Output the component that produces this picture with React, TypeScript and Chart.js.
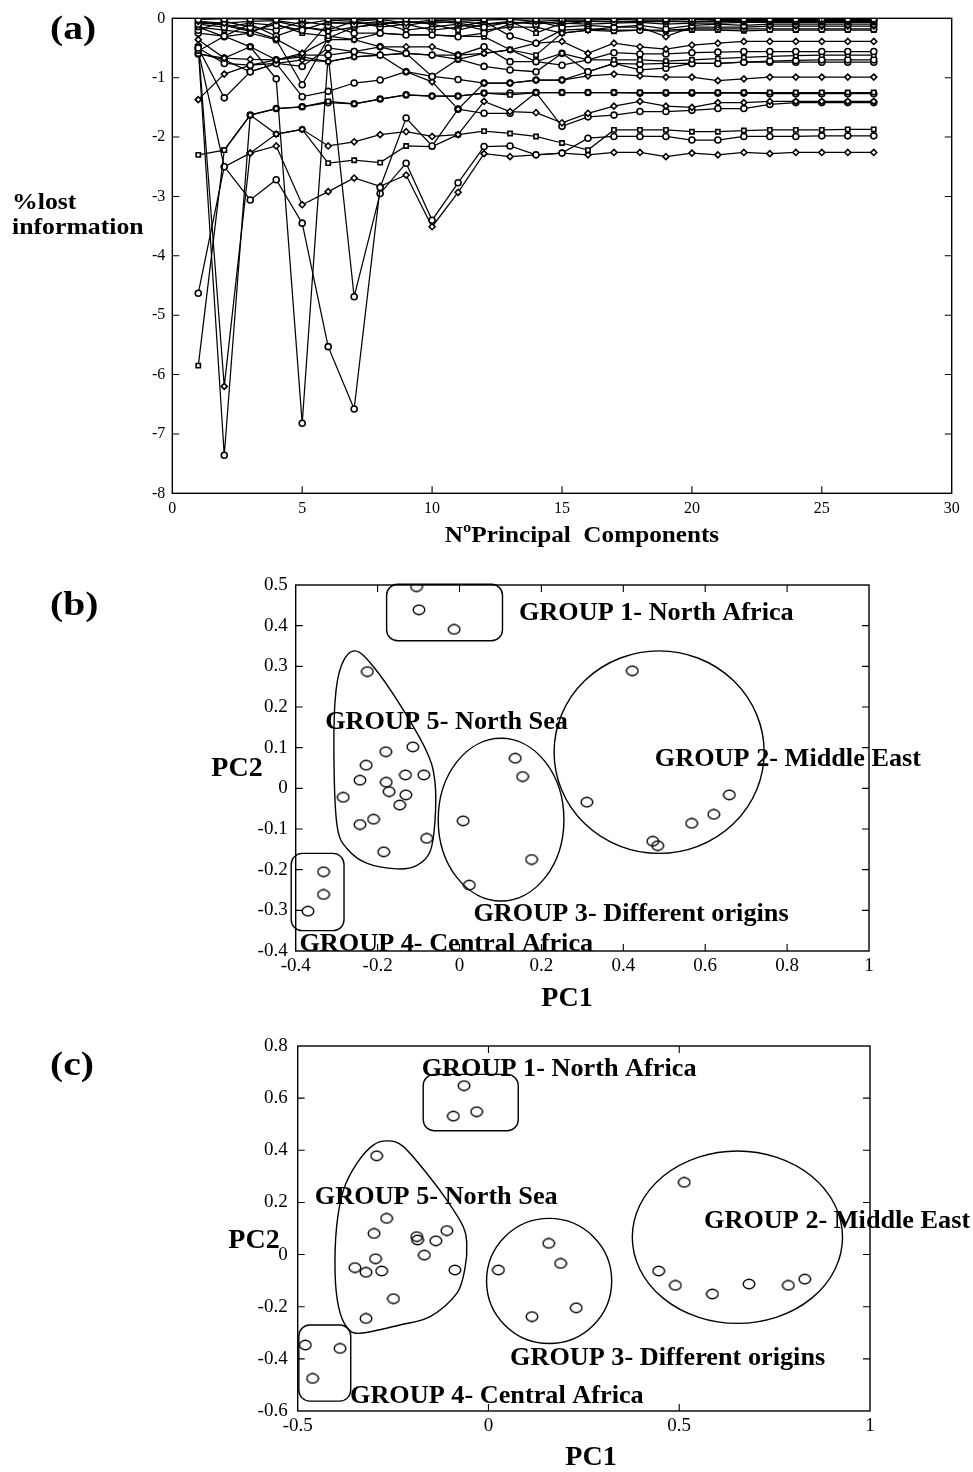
import React, { useEffect, useRef } from "react";
import { Chart, registerables } from "chart.js";
Chart.register(...registerables);

const SERIF = "'Liberation Serif', 'Times New Roman', Times, serif";

// ---------- Panel (a): % lost information vs number of principal components ----------
const PC_COUNT = [1, 2, 3, 4, 5, 6, 7, 8, 9, 10, 11, 12, 13, 14, 15, 16, 17, 18, 19, 20, 21, 22, 23, 24, 25, 26, 27];
const A_X_TICKS = [0, 5, 10, 15, 20, 25, 30];
const A_Y_TICKS = [0, -1, -2, -3, -4, -5, -6, -7, -8];

const LOSS_01 = [-0.02, -0.01, -0.01, -0.02, -0.01, -0.01, -0.02, -0.01, -0.01, -0.01, -0.02, -0.01, -0.01, -0.01, -0.01, -0.01, -0.01, -0.01, -0.01, -0.01, -0.01, -0.01, -0.01, -0.01, -0.01, -0.01, -0.01];
const LOSS_02 = [-0.05, -0.08, -0.05, -0.04, -0.1, -0.03, -0.05, -0.02, -0.08, -0.03, -0.05, -0.03, -0.02, -0.05, -0.03, -0.03, -0.02, -0.03, -0.03, -0.02, -0.02, -0.02, -0.02, -0.02, -0.02, -0.02, -0.02];
const LOSS_03 = [-0.1, -0.15, -0.08, -0.12, -0.2, -0.06, -0.1, -0.05, -0.12, -0.05, -0.08, -0.15, -0.06, -0.1, -0.05, -0.05, -0.06, -0.05, -0.05, -0.05, -0.04, -0.04, -0.04, -0.04, -0.04, -0.04, -0.04];
const LOSS_04 = [-0.15, -0.2, -0.25, -0.05, -0.15, -0.22, -0.15, -0.1, -0.05, -0.1, -0.2, -0.1, -0.05, -0.25, -0.08, -0.1, -0.08, -0.07, -0.1, -0.08, -0.08, -0.07, -0.07, -0.07, -0.07, -0.07, -0.07];
const LOSS_05 = [-0.2, -0.05, -0.15, -0.2, -0.05, -0.12, -0.25, -0.25, -0.28, -0.28, -0.31, -0.25, -0.1, -0.05, -0.15, -0.12, -0.15, -0.12, -0.18, -0.12, -0.1, -0.12, -0.1, -0.1, -0.1, -0.1, -0.1];
const LOSS_06 = [-0.08, -0.1, -0.2, -0.35, -0.59, -0.08, -0.08, -0.08, -0.2, -0.15, -0.1, -0.2, -0.15, -0.15, -0.25, -0.2, -0.15, -0.15, -0.31, -0.15, -0.15, -0.15, -0.13, -0.13, -0.13, -0.13, -0.13];
const LOSS_07 = [-0.25, -0.3, -0.1, -0.3, -0.15, -0.2, -0.05, -0.15, -0.1, -0.2, -0.15, -0.05, -0.3, -0.42, -0.2, -0.18, -0.2, -0.2, -0.2, -0.18, -0.18, -0.18, -0.18, -0.18, -0.18, -0.18, -0.18];
const LOSS_08 = [-0.05, -0.12, -0.22, -0.1, -0.25, -0.3, -0.36, -0.25, -0.28, -0.28, -0.3, -0.31, -0.53, -0.62, -0.25, -0.2, -0.22, -0.2, -0.22, -0.2, -0.2, -0.21, -0.2, -0.2, -0.2, -0.2, -0.2];
const LOSS_09 = [-0.15, -0.31, -0.25, -0.36, -1.12, -0.33, -0.15, -0.1, -0.05, -0.08, -0.05, -0.1, -0.08, -0.05, -0.1, -0.05, -0.05, -0.06, -0.05, -0.06, -0.05, -0.05, -0.05, -0.05, -0.05, -0.05, -0.05];
const LOSS_10 = [-0.36, -0.67, -0.69, -0.7, -0.59, -0.36, -0.36, -0.48, -0.48, -0.48, -0.62, -0.59, -0.53, -0.42, -0.39, -0.59, -0.42, -0.48, -0.52, -0.45, -0.42, -0.39, -0.39, -0.39, -0.39, -0.39, -0.39];
const LOSS_11 = [-0.5, -0.76, -0.79, -0.7, -0.62, -0.62, -0.56, -0.62, -0.59, -0.62, -0.62, -0.48, -0.73, -0.73, -0.79, -0.7, -0.58, -0.6, -0.6, -0.58, -0.57, -0.56, -0.56, -0.56, -0.56, -0.56, -0.56];
const LOSS_12 = [-0.55, -0.3, -0.48, -0.7, -0.65, -0.73, -0.65, -0.62, -0.59, -0.62, -0.69, -0.59, -0.53, -0.73, -0.59, -0.7, -0.7, -0.7, -0.72, -0.7, -0.68, -0.66, -0.64, -0.63, -0.62, -0.62, -0.62];
const LOSS_13 = [-0.59, -0.7, -0.9, -0.76, -0.81, -0.5, -0.56, -0.48, -0.59, -0.98, -0.69, -0.81, -0.87, -0.9, -0.59, -0.9, -0.76, -0.77, -0.76, -0.76, -0.76, -0.74, -0.72, -0.71, -0.7, -0.7, -0.7];
const LOSS_14 = [-1.37, -0.94, -0.79, -0.76, -0.7, -0.73, -0.65, -0.62, -0.9, -1.07, -1.53, -1.09, -1.09, -1.04, -1.04, -0.97, -0.94, -0.97, -0.99, -0.99, -1.05, -1.02, -0.99, -0.99, -0.99, -0.99, -0.99];
const LOSS_15 = [-0.5, -1.34, -0.9, -0.76, -1.32, -1.23, -1.09, -1.04, -0.9, -0.98, -1.03, -1.09, -1.09, -1.04, -1.04, -0.9, -0.76, -0.87, -0.84, -0.76, -0.76, -0.74, -0.74, -0.74, -0.74, -0.74, -0.74];
const LOSS_16 = [-5.85, -2.22, -1.63, -1.52, -1.49, -1.4, -1.44, -1.36, -1.29, -1.31, -1.31, -1.26, -1.29, -1.25, -1.25, -1.25, -1.25, -1.25, -1.25, -1.25, -1.25, -1.25, -1.25, -1.25, -1.25, -1.25, -1.25];
const LOSS_17 = [-0.5, -7.36, -1.63, -1.52, -1.49, -1.42, -1.44, -1.36, -1.29, -1.31, -1.31, -1.26, -1.26, -1.25, -1.25, -1.25, -1.25, -1.26, -1.26, -1.26, -1.26, -1.26, -1.27, -1.27, -1.27, -1.27, -1.27];
const LOSS_18 = [-0.45, -6.2, -2.27, -1.95, -1.87, -2.15, -2.08, -1.96, -1.91, -1.99, -1.96, -1.4, -1.57, -1.59, -1.76, -1.6, -1.48, -1.4, -1.48, -1.5, -1.42, -1.42, -1.4, -1.4, -1.4, -1.4, -1.4];
const LOSS_19 = [-4.63, -2.5, -3.06, -2.72, -3.45, -5.53, -6.58, -2.85, -1.68, -2.15, -1.53, -1.6, -1.6, -1.25, -1.82, -1.66, -1.63, -1.57, -1.57, -1.55, -1.52, -1.52, -1.45, -1.42, -1.42, -1.42, -1.42];
const LOSS_20 = [-2.3, -2.22, -1.63, -1.95, -1.87, -2.44, -2.39, -2.43, -2.15, -2.16, -1.96, -1.9, -1.94, -1.99, -2.1, -2.22, -1.88, -1.88, -1.88, -1.91, -1.91, -1.89, -1.88, -1.88, -1.88, -1.87, -1.87];
const LOSS_21 = [-0.6, -0.67, -0.48, -1.02, -6.82, -0.62, -4.69, -2.95, -2.44, -3.4, -2.77, -2.16, -2.15, -2.3, -2.27, -2.02, -1.99, -1.99, -1.99, -2.05, -2.05, -1.99, -1.99, -1.99, -1.98, -1.98, -1.98];
const LOSS_22 = [-0.55, -2.5, -2.27, -2.15, -3.14, -2.92, -2.69, -2.83, -2.64, -3.51, -2.93, -2.28, -2.33, -2.3, -2.27, -2.3, -2.26, -2.26, -2.33, -2.27, -2.3, -2.26, -2.28, -2.26, -2.26, -2.26, -2.26];

const LOSS_SERIES = [LOSS_01, LOSS_02, LOSS_03, LOSS_04, LOSS_05, LOSS_06, LOSS_07, LOSS_08, LOSS_09, LOSS_10, LOSS_11,
  LOSS_12, LOSS_13, LOSS_14, LOSS_15, LOSS_16, LOSS_17, LOSS_18, LOSS_19, LOSS_20, LOSS_21, LOSS_22];

// ---------- Panel (b): PC1 vs PC2 ----------
const B_X_TICKS = [-0.4, -0.2, 0, 0.2, 0.4, 0.6, 0.8, 1];
const B_Y_TICKS = [-0.4, -0.3, -0.2, -0.1, 0, 0.1, 0.2, 0.3, 0.4, 0.5];
const B_GROUP1 = [[-0.105, 0.496], [-0.099, 0.439], [-0.013, 0.391]];
const B_GROUP2 = [[0.422, 0.289], [0.311, -0.034], [0.472, -0.13], [0.484, -0.141], [0.567, -0.086], [0.621, -0.064], [0.659, -0.016]];
const B_GROUP3 = [[0.009, -0.08], [0.136, 0.074], [0.154, 0.029], [0.176, -0.175], [0.024, -0.238]];
const B_GROUP4 = [[-0.332, -0.205], [-0.332, -0.261], [-0.37, -0.302]];
const B_GROUP5 = [[-0.225, 0.287], [-0.18, 0.09], [-0.114, 0.102], [-0.228, 0.057], [-0.243, 0.02], [-0.179, 0.015],
  [-0.172, -0.008], [-0.132, 0.033], [-0.087, 0.033], [-0.131, -0.016], [-0.146, -0.041], [-0.284, -0.022],
  [-0.21, -0.076], [-0.243, -0.089], [-0.08, -0.123], [-0.185, -0.156]];
const B_OUTLINE5 = [[-0.255, 0.338], [-0.21, 0.299], [-0.145, 0.205], [-0.08, 0.09], [-0.06, 0.016], [-0.06, -0.082],
  [-0.072, -0.156], [-0.105, -0.19], [-0.153, -0.198], [-0.227, -0.184], [-0.275, -0.148], [-0.298, -0.098],
  [-0.306, 0.033], [-0.304, 0.213], [-0.288, 0.303]];
const B_SHAPES = [
  { kind: "rect", x1: -0.178, x2: 0.105, y1: 0.363, y2: 0.502 },
  { kind: "rect", x1: -0.411, x2: -0.282, y1: -0.35, y2: -0.16 },
  { kind: "ellipse", cx: 0.1015, cy: -0.077, rx: 0.1535, ry: 0.2 },
  { kind: "ellipse", cx: 0.4875, cy: 0.089, rx: 0.2565, ry: 0.249 },
  { kind: "curve", pts: B_OUTLINE5 },
];
const B_LABELS = [
  { text: "GROUP 1- North Africa", x: 0.145, y: 0.43 },
  { text: "GROUP 5- North Sea", x: -0.328, y: 0.161 },
  { text: "GROUP 2- Middle East", x: 0.477, y: 0.07 },
  { text: "GROUP 3- Different origins", x: 0.034, y: -0.31 },
  { text: "GROUP 4- Central Africa", x: -0.391, y: -0.383 },
];

// ---------- Panel (c): PC1 vs PC2 ----------
const C_X_TICKS = [-0.5, 0, 0.5, 1];
const C_Y_TICKS = [-0.6, -0.4, -0.2, 0, 0.2, 0.4, 0.6, 0.8];
const C_GROUP1 = [[-0.064, 0.648], [-0.092, 0.531], [-0.031, 0.548]];
const C_GROUP2 = [[0.513, 0.277], [0.446, -0.063], [0.49, -0.118], [0.587, -0.151], [0.683, -0.113], [0.786, -0.118], [0.829, -0.094]];
const C_GROUP3 = [[0.026, -0.059], [0.158, 0.043], [0.189, -0.034], [0.23, -0.204], [0.114, -0.238]];
const C_GROUP4 = [[-0.48, -0.347], [-0.389, -0.36], [-0.461, -0.475]];
const C_GROUP5 = [[-0.293, 0.379], [-0.267, 0.139], [-0.3, 0.081], [-0.188, 0.069], [-0.186, 0.056], [-0.138, 0.053],
  [-0.109, 0.092], [-0.168, -0.002], [-0.296, -0.016], [-0.35, -0.05], [-0.321, -0.068], [-0.28, -0.063],
  [-0.088, -0.059], [-0.249, -0.169], [-0.321, -0.245]];
const C_OUTLINE5 = [[-0.264, 0.436], [-0.223, 0.414], [-0.162, 0.312], [-0.109, 0.209], [-0.066, 0.107], [-0.057, 0.043],
  [-0.061, -0.047], [-0.083, -0.149], [-0.153, -0.238], [-0.232, -0.27], [-0.337, -0.302], [-0.372, -0.277],
  [-0.393, -0.2], [-0.402, -0.072], [-0.398, 0.107], [-0.38, 0.248], [-0.345, 0.35], [-0.302, 0.42]];
const C_SHAPES = [
  { kind: "rect", x1: -0.171, x2: 0.078, y1: 0.475, y2: 0.691 },
  { kind: "rect", x1: -0.497, x2: -0.361, y1: -0.562, y2: -0.27 },
  { kind: "ellipse", cx: 0.159, cy: -0.101, rx: 0.164, ry: 0.24 },
  { kind: "ellipse", cx: 0.6525, cy: 0.0665, rx: 0.2755, ry: 0.3305 },
  { kind: "curve", pts: C_OUTLINE5 },
];
const C_LABELS = [
  { text: "GROUP 1- North Africa", x: -0.175, y: 0.708 },
  { text: "GROUP 5- North Sea", x: -0.455, y: 0.218 },
  { text: "GROUP 2- Middle East", x: 0.565, y: 0.126 },
  { text: "GROUP 3- Different origins", x: 0.0565, y: -0.398 },
  { text: "GROUP 4- Central Africa", x: -0.363, y: -0.545 },
];

// ---------- drawing helpers ----------
function drawText(ctx: any, t: any) {
  ctx.save();
  ctx.fillStyle = "#000";
  ctx.font = `${t.bold ? "bold " : ""}${t.size}px ${SERIF}`;
  ctx.textBaseline = "middle";
  ctx.textAlign = "left";
  const sx = t.sx || 1;
  const w = ctx.measureText(t.text).width * sx;
  let x = t.x;
  if (t.align === "center") x -= w / 2;
  ctx.translate(x, t.y);
  ctx.scale(sx, 1);
  ctx.fillText(t.text, 0, 0);
  ctx.restore();
}

function closedCurve(ctx: any, P: number[][]) {
  const n = P.length;
  ctx.beginPath();
  ctx.moveTo(P[0][0], P[0][1]);
  for (let i = 0; i < n; i++) {
    const p0 = P[(i - 1 + n) % n], p1 = P[i], p2 = P[(i + 1) % n], p3 = P[(i + 2) % n];
    const c1x = p1[0] + (p2[0] - p0[0]) / 6, c1y = p1[1] + (p2[1] - p0[1]) / 6;
    const c2x = p2[0] - (p3[0] - p1[0]) / 6, c2y = p2[1] - (p3[1] - p1[1]) / 6;
    ctx.bezierCurveTo(c1x, c1y, c2x, c2y, p2[0], p2[1]);
  }
  ctx.closePath();
  ctx.stroke();
}

function makeDecor(cfg: any) {
  return {
    id: "decor",
    beforeDatasetsDraw(chart: any) {
      const ctx = chart.ctx, xs = chart.scales.x, ys = chart.scales.y;
      ctx.save();
      ctx.strokeStyle = "#000";
      ctx.lineWidth = 1.4;
      for (const s of cfg.shapes || []) {
        if (s.kind === "rect") {
          const x1 = xs.getPixelForValue(s.x1), x2 = xs.getPixelForValue(s.x2);
          const y1 = ys.getPixelForValue(s.y2), y2 = ys.getPixelForValue(s.y1);
          ctx.beginPath();
          ctx.roundRect(x1, y1, x2 - x1, y2 - y1, 11);
          ctx.stroke();
        } else if (s.kind === "ellipse") {
          const cx = xs.getPixelForValue(s.cx), cy = ys.getPixelForValue(s.cy);
          const rx = Math.abs(xs.getPixelForValue(s.cx + s.rx) - cx);
          const ry = Math.abs(ys.getPixelForValue(s.cy + s.ry) - cy);
          ctx.beginPath();
          ctx.ellipse(cx, cy, rx, ry, 0, 0, Math.PI * 2);
          ctx.stroke();
        } else if (s.kind === "curve") {
          closedCurve(ctx, s.pts.map((p: number[]) => [xs.getPixelForValue(p[0]), ys.getPixelForValue(p[1])]));
        }
      }
      ctx.restore();
    },
    afterDraw(chart: any) {
      const ctx = chart.ctx, ca = chart.chartArea, xs = chart.scales.x, ys = chart.scales.y;
      ctx.save();
      ctx.strokeStyle = "#000";
      ctx.lineWidth = 1.4;
      ctx.strokeRect(ca.left, ca.top, ca.right - ca.left, ca.bottom - ca.top);
      const L = 7;
      ctx.lineWidth = 1.1;
      ctx.beginPath();
      for (const t of xs.ticks) {
        const px = xs.getPixelForValue(t.value);
        if (px <= ca.left + 1 || px >= ca.right - 1) continue;
        ctx.moveTo(px, ca.bottom); ctx.lineTo(px, ca.bottom - L);
        ctx.moveTo(px, ca.top); ctx.lineTo(px, ca.top + L);
      }
      for (const t of ys.ticks) {
        const py = ys.getPixelForValue(t.value);
        if (py <= ca.top + 1 || py >= ca.bottom - 1) continue;
        ctx.moveTo(ca.left, py); ctx.lineTo(ca.left + L, py);
        ctx.moveTo(ca.right, py); ctx.lineTo(ca.right - L, py);
      }
      ctx.stroke();
      ctx.restore();
      for (const g of cfg.groupLabels || []) {
        drawText(ctx, { text: g.text, x: xs.getPixelForValue(g.x), y: ys.getPixelForValue(g.y), size: 25, bold: true, sx: 1.05 });
      }
      for (const t of cfg.texts || []) drawText(ctx, t);
    },
  };
}

function axes(xMin: number, xMax: number, xTicks: number[], yMin: number, yMax: number, yTicks: number[],
  yWidth: number, xHeight: number, fontSize: number, xPad: number, yPad: number) {
  const tickFont = { family: SERIF, size: fontSize };
  return {
    x: {
      type: "linear", min: xMin, max: xMax,
      afterBuildTicks: (s: any) => { s.ticks = xTicks.map((v) => ({ value: v })); },
      afterFit: (s: any) => { s.height = xHeight; },
      grid: { display: false, drawTicks: false },
      border: { display: false },
      ticks: { autoSkip: false, maxRotation: 0, padding: xPad, color: "#000", font: tickFont, callback: (v: any) => String(v) },
    },
    y: {
      type: "linear", min: yMin, max: yMax,
      afterBuildTicks: (s: any) => { s.ticks = yTicks.map((v) => ({ value: v })); },
      afterFit: (s: any) => { s.width = yWidth; },
      grid: { display: false, drawTicks: false },
      border: { display: false },
      ticks: { autoSkip: false, padding: yPad, color: "#000", font: tickFont, callback: (v: any) => String(v) },
    },
  };
}

function ellipseMarker() {
  const c = document.createElement("canvas");
  c.width = 14; c.height = 12;
  const g = c.getContext("2d") as any;
  g.strokeStyle = "#000";
  g.lineWidth = 1.4;
  g.beginPath();
  g.ellipse(7, 6, 5.8, 4.7, 0, 0, Math.PI * 2);
  g.stroke();
  return c;
}

function configA() {
  const markers = ["circle", "rectRot", "circle", "rect"];
  return {
    type: "line",
    data: {
      datasets: LOSS_SERIES.map((s, i) => ({
        data: PC_COUNT.map((x, j) => ({ x, y: s[j] })),
        borderColor: "#000", borderWidth: 1.25, tension: 0, fill: false,
        pointRadius: 3, pointStyle: markers[i % markers.length],
        pointBorderColor: "#000", pointBackgroundColor: "#fff", pointBorderWidth: 1.6,
      })),
    },
    options: {
      responsive: false, animation: false, events: [],
      layout: { padding: { left: 0, top: 18.3, right: 21.3, bottom: 0 } },
      plugins: { legend: { display: false }, tooltip: { enabled: false } },
      scales: axes(0, 30, A_X_TICKS, -8, 0, A_Y_TICKS, 172.3, 66.7, 16, 6, 7),
    },
    plugins: [makeDecor({
      texts: [
        { text: "(a)", x: 50, y: 30, size: 33, bold: true, sx: 1.2 },
        { text: "%lost", x: 12, y: 203, size: 23, bold: true, sx: 1.12 },
        { text: "information", x: 12, y: 228, size: 23, bold: true, sx: 1.12 },
        { text: "N\u00baPrincipal  Components", x: 582, y: 536, size: 24, bold: true, sx: 1.05, align: "center" },
      ],
    })],
  };
}

function scatterSets(groups: number[][][], marker: any) {
  return groups.map((g) => ({
    data: g.map((p) => ({ x: p[0], y: p[1] })),
    pointStyle: marker, pointRadius: 6, showLine: false,
    borderColor: "#000", backgroundColor: "rgba(0,0,0,0)",
  }));
}

function configB() {
  const m = ellipseMarker();
  return {
    type: "scatter",
    data: { datasets: scatterSets([B_GROUP1, B_GROUP2, B_GROUP3, B_GROUP4, B_GROUP5], m) },
    options: {
      responsive: false, animation: false, events: [],
      layout: { padding: { left: 0, top: 25, right: 104, bottom: 0 } },
      plugins: { legend: { display: false }, tooltip: { enabled: false } },
      scales: axes(-0.4, 1, B_X_TICKS, -0.4, 0.5, B_Y_TICKS, 295.7, 69, 19, 4, 8),
    },
    plugins: [makeDecor({
      shapes: B_SHAPES,
      groupLabels: B_LABELS,
      texts: [
        { text: "(b)", x: 50, y: 46, size: 33, bold: true, sx: 1.2 },
        { text: "PC2", x: 237, y: 209, size: 28, bold: true, align: "center" },
        { text: "PC1", x: 567, y: 439, size: 28, bold: true, align: "center" },
      ],
    })],
  };
}

function configC() {
  const m = ellipseMarker();
  return {
    type: "scatter",
    data: { datasets: scatterSets([C_GROUP1, C_GROUP2, C_GROUP3, C_GROUP4, C_GROUP5], m) },
    options: {
      responsive: false, animation: false, events: [],
      layout: { padding: { left: 0, top: 26, right: 103, bottom: 0 } },
      plugins: { legend: { display: false }, tooltip: { enabled: false } },
      scales: axes(-0.5, 1, C_X_TICKS, -0.6, 0.8, C_Y_TICKS, 297.7, 61, 19, 4, 10),
    },
    plugins: [makeDecor({
      shapes: C_SHAPES,
      groupLabels: C_LABELS,
      texts: [
        { text: "(c)", x: 50, y: 46, size: 33, bold: true, sx: 1.2 },
        { text: "PC2", x: 254, y: 221, size: 28, bold: true, align: "center" },
        { text: "PC1", x: 591, y: 438, size: 28, bold: true, align: "center" },
      ],
    })],
  };
}

function Panel({ top, height, make }: { top: number; height: number; make: () => any }) {
  const ref = useRef<HTMLCanvasElement | null>(null);
  useEffect(() => {
    if (!ref.current) return;
    const chart = new Chart(ref.current, make());
    return () => chart.destroy();
  }, []);
  return (
    <div style={{ position: "absolute", left: 0, top, width: 973, height }}>
      <canvas ref={ref} width={973} height={height} style={{ display: "block", width: 973, height }} />
    </div>
  );
}

export default function App() {
  return (
    <div style={{ position: "absolute", left: 0, top: 0, width: 973, height: 1472, background: "#fff" }}>
      <Panel top={0} height={560} make={configA} />
      <Panel top={560} height={460} make={configB} />
      <Panel top={1020} height={452} make={configC} />
    </div>
  );
}
